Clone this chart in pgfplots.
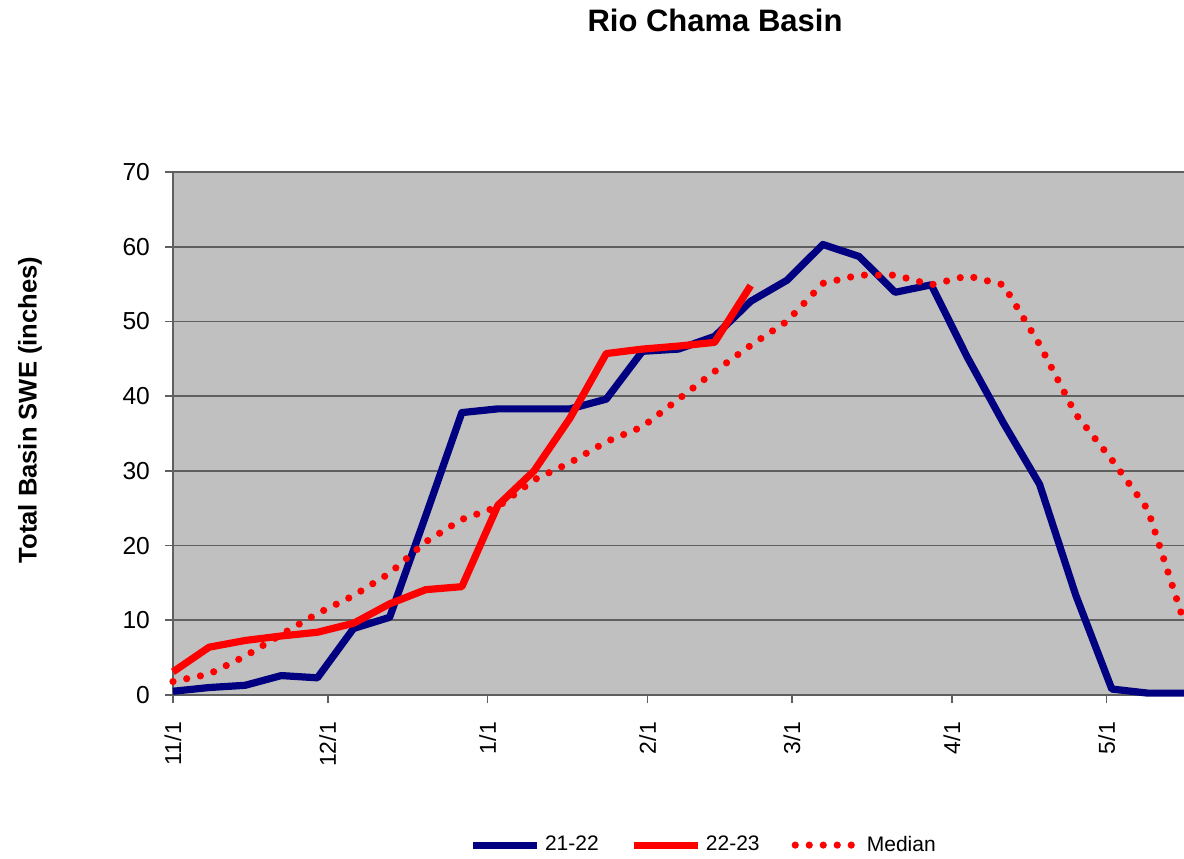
\documentclass[border=0pt]{standalone}
\usepackage{fontspec}
\setmainfont{Liberation Sans}
\usepackage{pgfplots}
\pgfplotsset{compat=1.18}
\definecolor{navy}{HTML}{000080}
\definecolor{plotbg}{HTML}{C0C0C0}
\definecolor{gridc}{HTML}{5F5F5F}
\begin{document}
\begin{tikzpicture}
\useasboundingbox (-86.5pt,-81.5pt) rectangle (505.5pt,347.5pt);
\begin{axis}[
  at={(0,0)}, anchor=south west,
  scale only axis, width=505.5pt, height=261.5pt,
  xmin=0, xmax=196, ymin=0, ymax=70,
  clip=false,
  axis x line*=bottom, axis y line*=left,
  axis line style={gridc, line width=1pt},
  axis background/.style={fill=plotbg},
  ymajorgrids, grid style={gridc, line width=0.8pt},
  tick align=outside, major tick length=4pt,
  tick style={gridc, line width=0.8pt},
  xtick={0,30,61,92,120,151,181},
  xticklabels={11/1,12/1,1/1,2/1,3/1,4/1,5/1},
  ytick={0,10,...,70},
  /pgf/number format/assume math mode=true,
  ticklabel style={font=\fontsize{11.5}{13}\selectfont},
  yticklabel style={font=\fontsize{12.3}{14}\selectfont},
  xticklabel style={rotate=90, anchor=east},
  xticklabel shift=6pt, yticklabel shift=4pt,
  ylabel={Total Basin SWE (inches)},
  ylabel style={font=\bfseries\fontsize{12.8}{15}\selectfont,
    at={(axis description cs:-0.1414,0.545)}, anchor=center},
  legend columns=3,
  legend style={at={(axis description cs:0.526,-0.287)}, anchor=center,
    draw=none, fill=none, font=\fontsize{10.5}{12}\selectfont,
    /tikz/every even column/.append style={column sep=14pt}},
  legend image code/.code={\draw[#1] (0pt,0pt) -- (32pt,0pt);},
]
\addplot[navy, line width=3.6pt, line join=round, mark=none] coordinates {
(0,0.5) (7,1.0) (14,1.3) (21,2.6) (28,2.3) (35,8.9) (42,10.4) (49,24.0)
(56,37.8) (63,38.3) (70,38.3) (77,38.3) (84,39.6) (91,46.0) (98,46.3)
(105,48.0) (112,52.7) (119,55.5) (126,60.3) (133,58.7) (140,53.9)
(147,54.9) (154,45.2) (161,36.4) (168,28.2) (175,13.4) (182,0.8)
(189,0.25) (196,0.25)};
\addplot[red, line width=3.6pt, line join=round, mark=none] coordinates {
(0,3.1) (7,6.4) (14,7.3) (21,7.9) (28,8.4) (35,9.6) (42,12.2) (49,14.1)
(56,14.5) (63,25.4) (70,30.0) (77,37.1) (84,45.7) (91,46.3) (98,46.7)
(105,47.2) (112,54.8)};
\addplot[red, line width=3.6pt, line cap=round, dash pattern=on 0pt off 7pt, mark=none] coordinates {
(0,1.8) (7,2.8) (14,5.2) (21,8.1) (28,10.9) (35,13.3) (42,16.3) (49,20.5)
(56,23.5) (63,25.2) (70,28.8) (77,31.1) (84,33.9) (91,35.9) (98,39.6)
(105,43.3) (112,46.8) (119,50.0) (126,55.1) (133,56.2) (140,56.2)
(147,54.9) (154,56.1) (161,54.9) (168,46.9) (175,37.6) (182,31.5)
(189,24.8) (196,9.8)};
\legend{21-22, 22-23, Median}
\end{axis}
\node[font=\bfseries\fontsize{15.5}{18}\selectfont] at (271pt,337.5pt) {Rio Chama Basin};
\end{tikzpicture}
\end{document}
